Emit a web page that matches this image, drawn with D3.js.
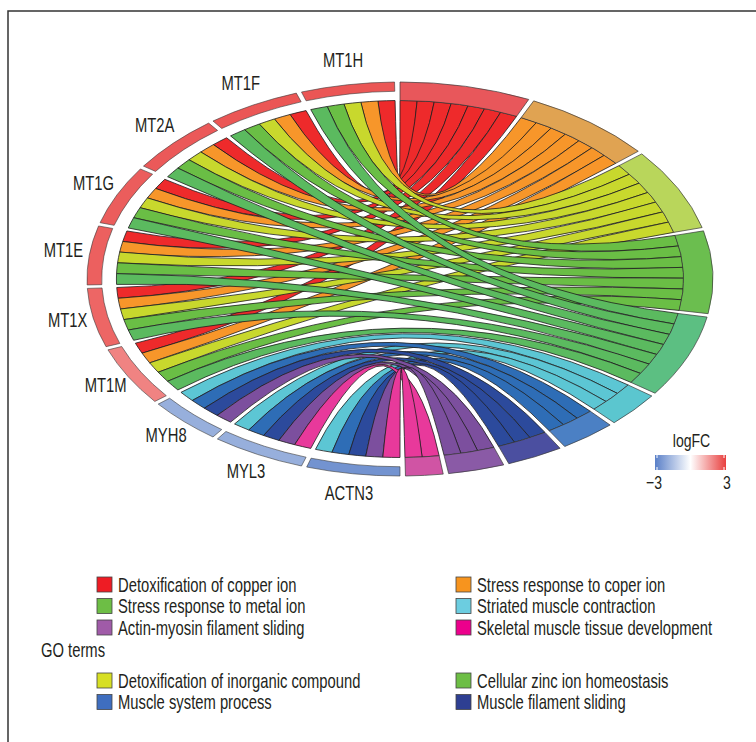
<!DOCTYPE html>
<html>
<head>
<meta charset="utf-8">
<script src="https://cdn.jsdelivr.net/npm/d3@7"></script>
<style>
  html, body { margin: 0; padding: 0; background: #fff; }
  svg text { font-family: "Liberation Sans", Arial, sans-serif; fill: #231f20; }
</style>
</head>
<body>
<svg id="chart" width="756" height="742"></svg>
<script>
// ---- data -------------------------------------------------------------
const genes = ["MT1H", "MT1F", "MT2A", "MT1G", "MT1E", "MT1X", "MT1M", "MYH8", "MYL3", "ACTN3"];
const logFC = [2.65, 2.65, 2.6, 2.55, 2.5, 2.4, 1.95, -1.9, -1.9, -2.55];

const terms = [
  "Detoxification of copper ion",
  "Stress response to coper ion",
  "Detoxification of inorganic compound",
  "Cellular zinc ion homeostasis",
  "Stress response to metal ion",
  "Striated muscle contraction",
  "Muscle system process",
  "Muscle filament sliding",
  "Actin-myosin filament sliding",
  "Skeletal muscle tissue development"
];

// gene x term membership (1 = gene belongs to the GO term)
const membership = [
  [1, 1, 1, 1, 1, 0, 0, 0, 0, 0], // MT1H
  [1, 1, 1, 1, 1, 0, 0, 0, 0, 0], // MT1F
  [1, 1, 1, 1, 1, 0, 0, 0, 0, 0], // MT2A
  [1, 1, 1, 1, 1, 0, 0, 0, 0, 0], // MT1G
  [1, 1, 1, 1, 1, 0, 0, 0, 0, 0], // MT1E
  [1, 1, 1, 1, 1, 0, 0, 0, 0, 0], // MT1X
  [1, 1, 1, 1, 1, 0, 0, 0, 0, 0], // MT1M
  [0, 0, 0, 0, 0, 1, 1, 1, 1, 0], // MYH8
  [0, 0, 0, 0, 0, 1, 1, 1, 1, 1], // MYL3
  [0, 0, 0, 0, 0, 1, 1, 1, 1, 1]  // ACTN3
];

// legend layout: two blocks of term indices, filled row by row
const legendBlocks = [[0, 1, 4, 5, 8, 9], [2, 3, 6, 7]];
const fcTicks = [-3, 3];

// ---- styles -----------------------------------------------------------
const ribbonColors = ["#ee2a2b", "#f7962a", "#c8d82d", "#6abe45", "#5bba5f",
                      "#5cc6d4", "#2e6db6", "#2c4a9c", "#7c4f9e", "#e8399b"];
const bandColors   = ["#e8575b", "#e0a352", "#b9d65b", "#6bbe4f", "#5cbf82",
                      "#5bc6cf", "#4b80c4", "#4b4fa0", "#8a5aa6", "#d054a4"];
const legendColors = ["#ee1c24", "#f7941e", "#d7df23", "#6dbe45", "#6dbe45",
                      "#6ccde0", "#3f6ebf", "#2e3f92", "#a05ba8", "#ec008c"];

const svg = d3.select("#chart");

// condensed text: a regular sans face squeezed horizontally
const squeeze = 0.74;
function label(parent, x, y, str, size, anchor) {
  return parent.append("text")
    .attr("transform", `translate(${x},${y}) scale(${squeeze},1)`)
    .attr("dy", "0.36em")
    .attr("text-anchor", anchor || "start")
    .attr("font-size", size)
    .text(str);
}

// frame
svg.append("path")
  .attr("d", "M8,742V11H756")
  .attr("fill", "none")
  .attr("stroke", "#333")
  .attr("stroke-width", 1.5);

// ---- chord geometry ---------------------------------------------------
const cx = 400, cy = 279;
const R = 313;                 // outer radius (horizontal)
const ky = 197 / 313;          // vertical squash of the circle
const rRibbon = 0.906 * R;
const rGeneIn = 0.953 * R;

const gap = 1 * Math.PI / 180;
const termCounts = terms.map((t, j) => d3.sum(membership, row => row[j]));
const geneCounts = membership.map(row => d3.sum(row));
const N = d3.sum(termCounts);
const unit = (2 * Math.PI - 20 * gap) / (2 * N);

// terms run clockwise from 12 o'clock
const termArcs = [];
let a = 0;
termCounts.forEach((c, j) => {
  termArcs.push({ index: j, startAngle: a, endAngle: a + c * unit });
  a += c * unit + gap;
});

// genes run counter-clockwise from 12 o'clock
const geneArcs = [];
let b = -gap;
geneCounts.forEach((c, i) => {
  geneArcs.push({ index: i, startAngle: b - c * unit, endAngle: b });
  b -= c * unit + gap;
});

// slot of each gene inside a term, and of each term inside a gene
const termSlot = {}, geneSlot = {};
terms.forEach((t, j) => {
  let k = 0;
  genes.forEach((g, i) => {
    if (membership[i][j]) {
      const s = termArcs[j].startAngle + k * unit;
      termSlot[i + "_" + j] = { startAngle: s, endAngle: s + unit };
      k++;
    }
  });
});
genes.forEach((g, i) => {
  let k = 0;
  terms.forEach((t, j) => {
    if (membership[i][j]) {
      const e = geneArcs[i].endAngle - k * unit;
      geneSlot[i + "_" + j] = { startAngle: e - unit, endAngle: e };
      k++;
    }
  });
});

const links = [];
terms.forEach((t, j) => {
  genes.forEach((g, i) => {
    if (membership[i][j]) {
      links.push({ term: j, source: geneSlot[i + "_" + j], target: termSlot[i + "_" + j] });
    }
  });
});

const fcColor = d3.scaleLinear()
  .domain([-3, 0, 3])
  .range(["#5a80c8", "#ffffff", "#e8403f"])
  .clamp(true);

const chord = svg.append("g")
  .attr("transform", `translate(${cx},${cy}) scale(1,${ky})`);

const ribbon = d3.ribbon().radius(rRibbon);

chord.append("g").selectAll("path")
  .data(links)
  .join("path")
  .attr("d", ribbon)
  .attr("fill", d => ribbonColors[d.term])
  .attr("stroke", "#1e1e1e")
  .attr("stroke-width", 0.8)
  .attr("vector-effect", "non-scaling-stroke");

const termArc = d3.arc().innerRadius(rRibbon).outerRadius(R);
chord.append("g").selectAll("path")
  .data(termArcs)
  .join("path")
  .attr("d", termArc)
  .attr("fill", d => bandColors[d.index])
  .attr("stroke", "#3a3a3a")
  .attr("stroke-width", 0.7)
  .attr("vector-effect", "non-scaling-stroke");

const geneArc = d3.arc().innerRadius(rGeneIn).outerRadius(R);
chord.append("g").selectAll("path")
  .data(geneArcs)
  .join("path")
  .attr("d", geneArc)
  .attr("fill", d => fcColor(logFC[d.index]))
  .attr("stroke", "#3a3a3a")
  .attr("stroke-width", 0.6)
  .attr("vector-effect", "non-scaling-stroke");

// gene labels around the ellipse
const labelRx = 339, labelRy = 219, labelCy = cy - 3;
const geneLabels = svg.append("g");
geneArcs.forEach(d => {
  const m = (d.startAngle + d.endAngle) / 2;
  label(geneLabels, cx + labelRx * Math.sin(m), labelCy - labelRy * Math.cos(m),
        genes[d.index], 20, "middle");
});

// ---- logFC colour bar -------------------------------------------------
const barX = d3.scaleLinear().domain([-3, 3]).range([657, 724]);
const grad = svg.append("defs").append("linearGradient")
  .attr("id", "fcgrad").attr("x1", "0%").attr("x2", "100%");
d3.range(0, 1.0001, 0.1).forEach(p => {
  grad.append("stop")
    .attr("offset", (p * 100) + "%")
    .attr("stop-color", fcColor(-3 + 6 * p));
});
const bar = svg.append("g");
bar.append("rect")
  .attr("x", barX(-3) - 2).attr("y", 455)
  .attr("width", barX(3) - barX(-3) + 4).attr("height", 15)
  .attr("fill", "url(#fcgrad)");
fcTicks.forEach(v => {
  [[455, 458], [467, 470]].forEach(([y1, y2]) => {
    bar.append("line")
      .attr("x1", barX(v)).attr("x2", barX(v))
      .attr("y1", y1).attr("y2", y2)
      .attr("stroke", "#fff").attr("stroke-width", 1);
  });
  label(bar, barX(v) + (v < 0 ? -3 : 3), 482,
        v < 0 ? "\u2212" + Math.abs(v) : String(v), 19, "middle");
});
label(bar, (barX(-3) + barX(3)) / 2 + 1, 440, "logFC", 19, "middle");

// ---- legend -----------------------------------------------------------
const legend = svg.append("g");
const colX = [97, 456];
const blockTop = [577, 673];
const rowH = 21.5;
legendBlocks.forEach((block, bi) => {
  block.forEach((j, k) => {
    const x = colX[k % 2];
    const y = blockTop[bi] + Math.floor(k / 2) * rowH;
    legend.append("rect")
      .attr("x", x).attr("y", y)
      .attr("width", 15).attr("height", 15)
      .attr("fill", legendColors[j])
      .attr("stroke", "#444").attr("stroke-width", 0.8);
    label(legend, x + 21, y + 7.5, terms[j], 20, "start");
  });
});
label(legend, 41, 650, "GO terms", 20, "start");
</script>
</body>
</html>
